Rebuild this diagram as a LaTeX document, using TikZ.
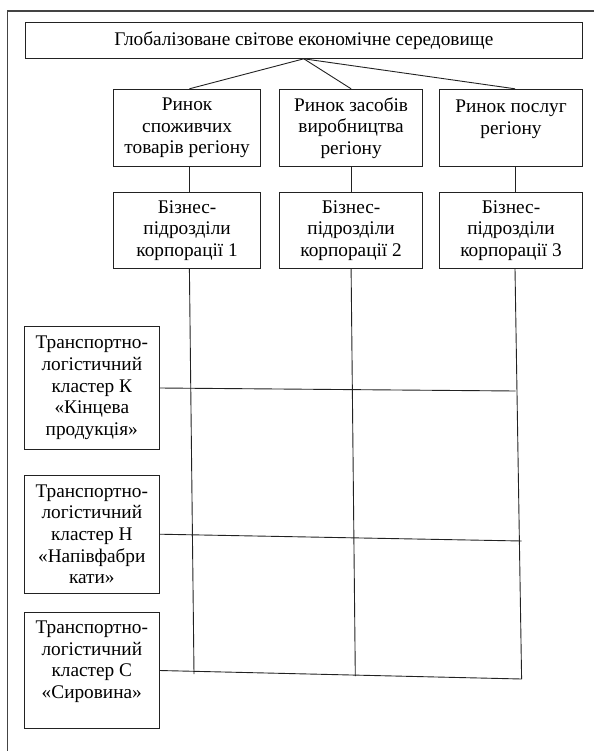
\documentclass[tikz,border=0pt]{standalone}
\usepackage{fontspec}
\setmainfont{Liberation Serif}
\usepackage{xcolor}
\definecolor{DarkGrey}{HTML}{222222}
\definecolor{FrameGrey}{HTML}{444444}
\usepackage{tikz}
\usetikzlibrary{calc,positioning}
\newcommand\BoxFont{\fontsize{19.3}{21.7}\selectfont}
\tikzstyle{unit}=[rectangle,draw=DarkGrey,line width=1pt,align=center,
                  inner sep=0pt,font=\BoxFont]
\tikzstyle{link}=[DarkGrey,line width=0.9pt]
\tikzstyle{frame}=[FrameGrey,line width=1.3pt]

\begin{document}
\begin{tikzpicture}[x=1pt,y=-1pt]
      \useasboundingbox (0,0) rectangle (594,751);
      \draw[frame] (594,11) -- (7.6,11) -- (7.6,751);
      \node[unit,minimum width=557.6pt,minimum height=35.6pt] (glob) at (303.8,40.5) {Глобалізоване світове економічне середовище};
      \node[unit,minimum width=147pt,minimum height=77.4pt] (m1) at (187.1,128) {Ринок\\споживчих\\товарів регіону};
      \node[unit,minimum width=143.2pt,minimum height=77.4pt] (m2) at (351.1,128) {Ринок засобів\\виробництва\\регіону};
      \node[unit,minimum width=143.2pt,minimum height=77.4pt] (m3) at (511,128) {Ринок послуг\\регіону\\\mbox{}};
      \node[unit,minimum width=147pt,minimum height=75.6pt] (b1) at (187.1,230.5) {Бізнес-\\підрозділи\\корпорації 1};
      \node[unit,minimum width=143.2pt,minimum height=75.6pt] (b2) at (351.1,230.5) {Бізнес-\\підрозділи\\корпорації 2};
      \node[unit,minimum width=143.2pt,minimum height=75.6pt] (b3) at (511,230.5) {Бізнес-\\підрозділи\\корпорації 3};
      \node[unit,minimum width=134.5pt,minimum height=122.6pt] (ck) at (91.8,388) {Транспортно-\\логістичний\\кластер К\\«Кінцева\\продукція»};
      \node[unit,minimum width=134.5pt,minimum height=118.3pt] (ch) at (91.8,534.2) {Транспортно-\\логістичний\\кластер Н\\«Напівфабри\\кати»};
      \node[unit,minimum width=134.5pt,minimum height=116.4pt] (cs) at (91.8,670.5) {Транспортно-\\логістичний\\кластер С\\«Сировина»\\\mbox{}};
      \coordinate (v1) at (194,674);
      \coordinate (v2) at (355.3,676);
      \coordinate (v3) at (521.6,679);
      \coordinate (hk) at (515.5,391);
      \coordinate (hh) at (521.6,541);
      \draw[link] (glob.south) -- ($(m1.north)+(2.3,0)$);
      \draw[link] (glob.south) -- (m2.north);
      \draw[link] (glob.south) -- ($(m3.north)+(4,0)$);
      \draw[link] ($(m1.south)+(2.3,0)$) -- ($(b1.north)+(2.3,0)$);
      \draw[link] (m2) -- (b2);
      \draw[link] ($(m3.south)+(4,0)$) -- ($(b3.north)+(4,0)$);
      \draw[link] ($(b1.south)+(2.3,0)$) -- (v1);
      \draw[link] (b2.south) -- (v2);
      \draw[link] ($(b3.south)+(4,0)$) -- (v3);
      \draw[link] (ck.east) -- (hk);
      \draw[link] (ch.east) -- (hh);
      \draw[link] (cs.east) -- (v3);
   \end{tikzpicture}
\end{document}
